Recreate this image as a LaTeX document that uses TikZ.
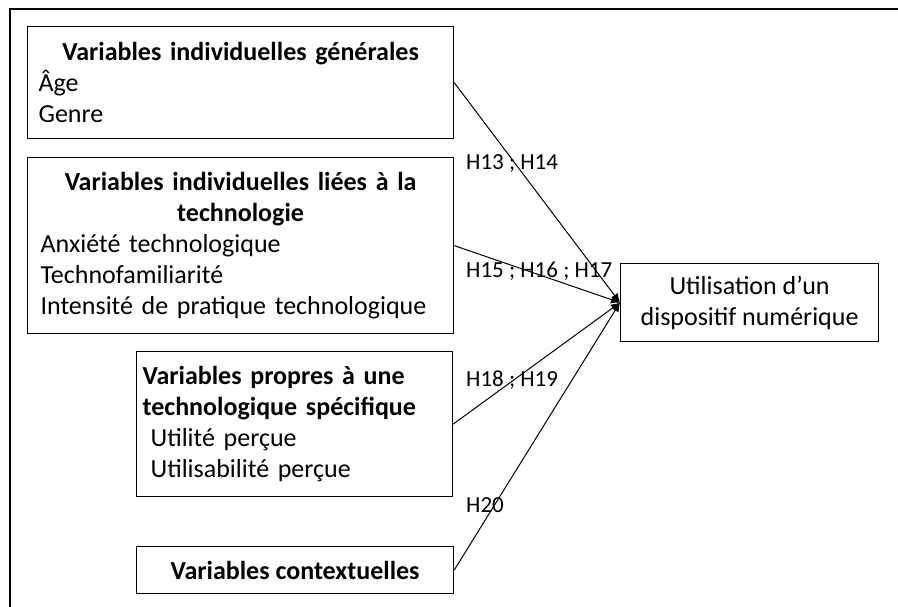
\documentclass[tikz,border=0pt]{standalone}
\usepackage{fontspec}
\setmainfont{Carlito}
\usetikzlibrary{arrows.meta}
\begin{document}
\begin{tikzpicture}[x=1pt,y=-1pt,
  box/.style={draw,line width=1.2pt,inner ysep=0pt,font={\fontsize{26}{31}\selectfont\parindent=0pt},anchor=north west},
  lab/.style={font=\fontsize{23}{28}\selectfont,anchor=west,inner sep=0pt},
  conn/.style={line width=1pt,-{Latex[length=9pt,width=8pt]}}]
\useasboundingbox (0,0) rectangle (898,607);
\draw[line width=1.5pt] (10,620) -- (10,9) -- (910,9);
\node[box,inner xsep=11pt,text width=404pt,minimum height=112pt] (g) at (27,26)
  {{\centering\bfseries Variables individuelles générales\par}\raggedright Âge\\Genre};
\node[box,inner xsep=13pt,text width=400pt,minimum height=176pt] (t) at (27,157)
  {{\centering\bfseries Variables individuelles liées à la\\technologie\par}\raggedright Anxiété technologique\\Technofamiliarité\\Intensité de pratique technologique};
\node[box,inner xsep=14pt,text width=288pt,minimum height=145pt] (s) at (136,351)
  {\raggedright\hspace*{-8pt}\textbf{Variables propres à une}\\\hspace*{-8pt}\textbf{technologique spécifique}\\Utilité perçue\\Utilisabilité perçue};
\node[box,align=center,minimum width=317pt,minimum height=47pt] (c) at (136,546)
  {\textbf{Variables contextuelles}};
\node[box,align=center,minimum width=258pt,minimum height=78pt] (u) at (620,263)
  {Utilisation d’un\\dispositif numérique};
\draw[conn] (g.east) -- (u.west);
\draw[conn] (t.east) -- (u.west);
\draw[conn] (s.east) -- (u.west);
\draw[conn] (c.east) -- (u.west);
\node[lab] (l1) at (466,164) {H13 ; H14};
\node[lab] (l2) at (466,271) {H15 ; H16 ; H17};
\node[lab] (l3) at (466,380) {H18 ; H19};
\node[lab] (l4) at (466,505) {H20};
\end{tikzpicture}
\end{document}
